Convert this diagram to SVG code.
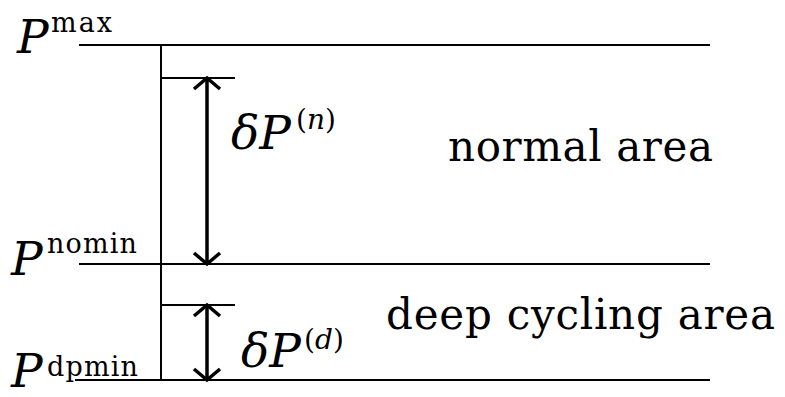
<svg xmlns="http://www.w3.org/2000/svg" width="785" height="397" viewBox="0 0 785 397">
<style>
.ln{stroke:#000;stroke-width:2;fill:none}
.ar{stroke:#000;stroke-width:3.5;fill:none}
text{font-family:"DejaVu Serif","Liberation Serif","Noto Serif",serif;fill:#000}
.big{font-size:47px}
.it{font-style:italic}
.sup{font-size:27px}
.sup2{font-size:28px;font-style:normal}
.lbl{font-size:42px}
</style>
<rect width="785" height="397" fill="#fff"/>
<g id="connectors">
<line class="ln" x1="79" y1="45" x2="710" y2="45"/>
<line class="ln" x1="79" y1="264" x2="710" y2="264"/>
<line class="ln" x1="75" y1="380" x2="710" y2="380"/>
<line class="ln" x1="161" y1="45" x2="161" y2="380"/>
<line class="ln" x1="161" y1="78" x2="235" y2="78"/>
<line class="ln" x1="161" y1="305" x2="235" y2="305"/>
<path class="ar" d="M207,79 V263"/>
<path class="ar" d="M194,89 L207,78 L220,89 M194,253 L207,264 L220,253"/>
<path class="ar" d="M207,306 V379"/>
<path class="ar" d="M194,316 L207,305 L220,316 M194,369 L207,380 L220,369"/>
</g>
<g id="pmax">
<text class="big it" x="17" y="53">P</text>
<text class="sup" x="51" y="32" textLength="61" lengthAdjust="spacing">max</text>
</g>
<g id="pnomin">
<text class="big it" x="11" y="275">P</text>
<text class="sup" x="47" y="253" textLength="90" lengthAdjust="spacing">nomin</text>
</g>
<g id="pdpmin">
<text class="big it" x="11" y="387">P</text>
<text class="sup" x="47" y="376" textLength="91" lengthAdjust="spacing">dpmin</text>
</g>
<g id="dpn">
<text class="big it" x="231" y="149">δP<tspan class="sup2" x="296" y="129">(<tspan class="it">n</tspan>)</tspan></text>
</g>
<g id="dpd">
<text class="big it" x="241" y="367">δP<tspan class="sup2" x="304" y="349">(<tspan class="it">d</tspan>)</tspan></text>
</g>
<g id="normal">
<text class="lbl" x="448" y="161" textLength="265" lengthAdjust="spacing">normal area</text>
</g>
<g id="deep">
<text class="lbl" x="386" y="329" textLength="389" lengthAdjust="spacing">deep cycling area</text>
</g>
</svg>
